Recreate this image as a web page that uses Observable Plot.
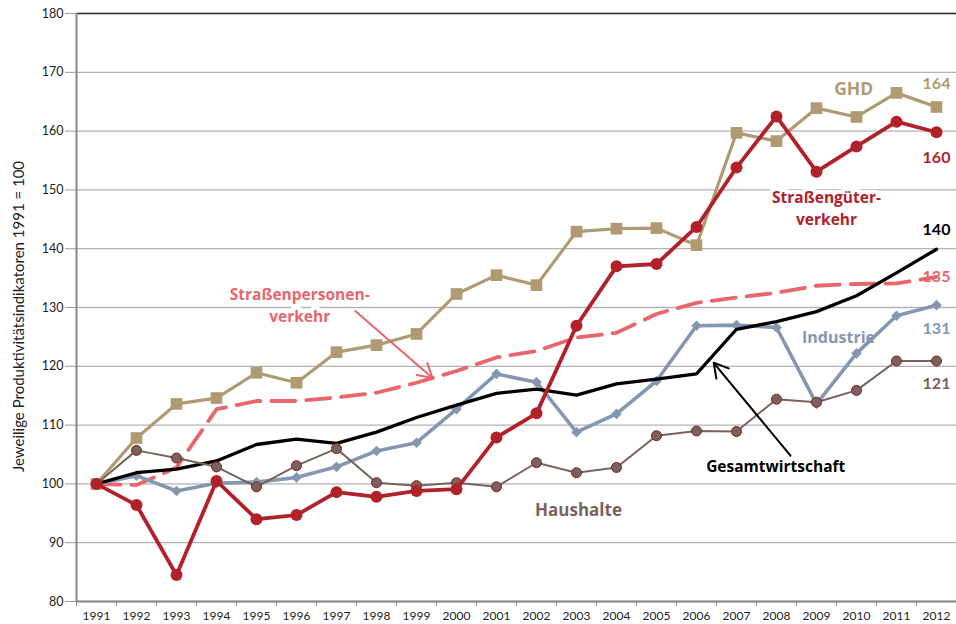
<!DOCTYPE html>
<html>
<head>
<meta charset="utf-8">
<script src="https://cdn.jsdelivr.net/npm/d3@7"></script>
<script src="https://cdn.jsdelivr.net/npm/@observablehq/plot@0.6"></script>
<style>
  html, body { margin: 0; padding: 0; background: #fff; }
  #chart svg { display: block; }
</style>
</head>
<body>
<div id="chart"></div>
<script>
const years = [1991,1992,1993,1994,1995,1996,1997,1998,1999,2000,2001,2002,2003,2004,2005,2006,2007,2008,2009,2010,2011,2012];
const ghd = [100,107.8,113.6,114.6,118.9,117.2,122.4,123.6,125.5,132.3,135.5,133.8,142.9,143.4,143.5,140.6,159.7,158.3,163.9,162.4,166.5,164.1];
const gueter = [100,96.4,84.5,100.5,94.0,94.7,98.6,97.8,98.8,99.1,107.9,112.0,126.9,137.0,137.4,143.7,153.8,162.5,153.1,157.4,161.6,159.8];
const gesamt = [100,101.9,102.5,103.9,106.7,107.6,106.9,108.8,111.3,113.4,115.4,116.1,115.1,117.0,117.8,118.7,126.3,127.6,129.3,132.0,135.9,139.9];
const personen = [100,99.8,102.8,112.7,114.1,114.1,114.7,115.5,117.2,119.2,121.5,122.6,124.9,125.7,128.9,130.8,131.7,132.5,133.7,134.0,134.1,135.2];
const industrie = [100,101.4,98.8,100.1,100.3,101.1,102.9,105.6,107.0,112.7,118.7,117.3,108.8,111.9,117.5,126.9,127.0,126.6,113.6,122.2,128.6,130.4];
const haushalte = [100,105.7,104.4,102.9,99.5,103.1,106.0,100.2,99.7,100.2,99.5,103.6,101.9,102.8,108.2,109.0,108.9,114.4,113.9,115.9,120.9,120.9];
const yTicks = [80,90,100,110,120,130,140,150,160,170,180];
const yTitle = "Jeweilige Produktivitätsindikatoren 1991 = 100";

// annotation labels (data coordinates)
const seriesLabels = [
  {text: "GHD", x: 2009.93, y: 167.5, color: "#b09a72", size: 17.5, halo: true},
  {text: "Straßengüter-\nverkehr", x: 2009.25, y: 147.1, color: "#b22129", size: 15.5, halo: true},
  {text: "Straßenpersonen-\nverkehr", x: 1996.08, y: 130.6, color: "#e8666b", size: 15.5, halo: true},
  {text: "Industrie", x: 2009.55, y: 125.2, color: "#8497b0", size: 16, halo: false},
  {text: "Gesamtwirtschaft", x: 2007.98, y: 103.2, color: "#000000", size: 15.5, halo: false},
  {text: "Haushalte", x: 2003.05, y: 95.9, color: "#7a625c", size: 17, halo: false}
];
const endLabels = [
  {text: "164", y: 168.0, color: "#b09a72"},
  {text: "160", y: 155.4, color: "#b22129"},
  {text: "140", y: 143.2, color: "#000000"},
  {text: "135", y: 135.2, color: "#e8666b"},
  {text: "131", y: 126.4, color: "#8497b0"},
  {text: "121", y: 117.0, color: "#7a625c"}
];
const arrows = [
  {x1: 1997.47, y1: 129.4, x2: 1999.4, y2: 118.0, color: "#e8666b"},
  {x1: 2008.35, y1: 104.8, x2: 2006.43, y2: 120.6, color: "#000000"}
];

const rows = (vals) => years.map((yr, i) => ({year: yr, v: vals[i]}));
const boundaries = years.map(y => y - 0.5).concat([years[years.length - 1] + 0.5]);

const FONT = "Lato, 'Open Sans', sans-serif";
const LABELFONT = "'Open Sans', Lato, sans-serif";

const chart = Plot.plot({
  width: 956,
  height: 624,
  marginTop: 13,
  marginBottom: 23,
  marginLeft: 76,
  marginRight: 0,
  style: {fontFamily: FONT, fontSize: "12px", color: "#222", background: "#fff"},
  x: {domain: [1990.5, 2012.5]},
  y: {domain: [80, 180]},
  marks: [
    Plot.gridY(yTicks, {stroke: "#b3b3b3", strokeOpacity: 1, strokeWidth: 1.3}),
    Plot.ruleY([180], {stroke: "#333", strokeWidth: 1.3}),
    Plot.axisY(yTicks, {tickSize: 11, tickPadding: 2, stroke: "#999", fontSize: 12.5, label: null}),
    Plot.text([yTitle], {frameAnchor: "left", textAnchor: "middle", rotate: -90, dx: -57, dy: 9, fontSize: 15, fill: "#222"}),
    Plot.axisX(years, {tickSize: 0, tickPadding: 10, tickFormat: d => String(d), fontSize: 12, label: null}),
    Plot.axisX(boundaries, {tickSize: 5, tickFormat: () => "", stroke: "#888", label: null}),
    Plot.ruleX([1990.5], {stroke: "#888", strokeWidth: 2}),
    Plot.ruleY([80], {stroke: "#888", strokeWidth: 2}),

    // series
    Plot.line(rows(personen), {x: "year", y: "v", stroke: "#e8666b", strokeWidth: 3.8, strokeDasharray: "24,11"}),
    Plot.line(rows(industrie), {x: "year", y: "v", stroke: "#8497b0", strokeWidth: 3.6}),
    Plot.dot(rows(industrie), {x: "year", y: "v", symbol: "diamond2", r: 4.8, fill: "#8497b0", stroke: "none"}),
    Plot.line(rows(ghd), {x: "year", y: "v", stroke: "#b09a72", strokeWidth: 3.2}),
    Plot.dot(rows(ghd), {x: "year", y: "v", symbol: "square", r: 6.6, fill: "#b09a72", stroke: "none"}),
    Plot.line(rows(gesamt), {x: "year", y: "v", stroke: "#000", strokeWidth: 3.3}),
    Plot.line(rows(haushalte), {x: "year", y: "v", stroke: "#7a625c", strokeWidth: 2}),
    Plot.dot(rows(haushalte), {x: "year", y: "v", r: 5, fill: "#7a625c", stroke: "#8b1a1a", strokeWidth: 1}),
    Plot.line(rows(gueter), {x: "year", y: "v", stroke: "#b22129", strokeWidth: 3.8}),
    Plot.dot(rows(gueter), {x: "year", y: "v", r: 6, fill: "#b22129", stroke: "none"}),

    // annotations
    Plot.arrow(arrows, {x1: "x1", y1: "y1", x2: "x2", y2: "y2", stroke: "color", strokeWidth: 2, headLength: 12}),
    Plot.text(seriesLabels.filter(d => d.halo), {x: "x", y: "y", text: "text", fill: "color", stroke: "white",
      strokeWidth: 8, paintOrder: "stroke", fontWeight: "bold", fontSize: d => d.size, lineHeight: 1.42, fontFamily: LABELFONT}),
    Plot.text(seriesLabels.filter(d => !d.halo), {x: "x", y: "y", text: "text", fill: "color", fontWeight: "bold",
      fontSize: d => d.size, lineHeight: 1.42, fontFamily: LABELFONT}),
    Plot.text(endLabels, {x: () => 2012, y: "y", text: "text", fill: "color", fontWeight: "bold", fontSize: 16})
  ]
});

document.getElementById("chart").appendChild(chart);
</script>
</body>
</html>
